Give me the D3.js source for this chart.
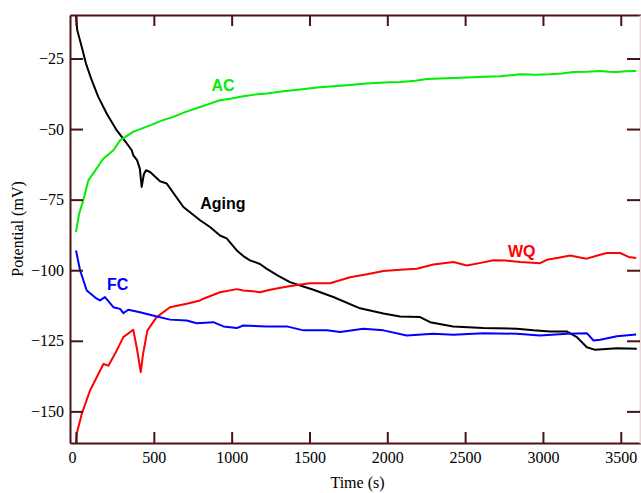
<!DOCTYPE html>
<html>
<head>
<meta charset="utf-8">
<script src="https://cdn.jsdelivr.net/npm/d3@7"></script>
<style>
  body { margin: 0; background: #fff; }
  svg { display: block; }
</style>
</head>
<body>
<div id="chart"></div>
<script>
// [time (s), potential (mV)]
const aging = [[0,-10],[8,-15],[37,-20.9],[64,-26.8],[101,-32.7],[143,-38.6],[197,-44.5],[261,-50.4],[326,-55.1],[358,-57.5],[368,-59.3],
  [392,-61],[410,-64],[422,-70.5],[436,-66],[450,-64.6],[476,-65.2],[540,-68.5],[583,-69.3],[690,-77.6],[797,-82.3],[861,-84.7],[925,-87.7],
  [968,-88.7],[1033,-93],[1075,-95],[1118,-96.5],[1182,-97.8],[1226,-99.5],[1300,-102],[1375,-104.2],[1450,-105.6],[1525,-106.9],[1653,-109.5],
  [1825,-113.5],[1975,-115.3],[2082,-116.4],[2211,-116.6],[2275,-118.4],[2423,-119.9],[2616,-120.5],[2832,-120.7],[2939,-121.3],
  [3046,-121.7],[3153,-121.7],[3218,-123.7],[3282,-127.3],[3336,-128.2],[3475,-127.6],[3603,-127.8]];

const ac = [[0,-86.5],[20,-80],[47,-75.2],[79,-68.2],[120,-65],[154,-62.2],[175,-60.5],[240,-57.5],[283,-54],[366,-51],[476,-48.7],
  [550,-47],[625,-45.7],[700,-44],[797,-42.2],[860,-41],[925,-39.8],[1000,-39.2],[1075,-38.4],[1150,-37.8],[1226,-37.4],[1330,-36.6],
  [1440,-36],[1550,-35.3],[1654,-34.8],[1760,-34.4],[1868,-33.9],[1980,-33.5],[2082,-33.3],[2180,-32.9],[2254,-32.3],[2380,-32],
  [2511,-31.7],[2620,-31.5],[2725,-31.3],[2800,-30.9],[2853,-30.6],[2950,-30.8],[3046,-30.6],[3120,-30.3],[3196,-29.8],[3280,-29.7],
  [3368,-29.4],[3420,-29.7],[3475,-29.8],[3530,-29.5],[3599,-29.4]];

const wq = [[0,-161.5],[4,-158],[37,-150.9],[90,-142.6],[176,-133.2],[208,-133.8],[261,-128.5],[304,-123.7],[368,-121.1],[392,-128],
  [416,-136.1],[430,-130],[458,-121.4],[518,-116.6],[604,-113.1],[711,-111.9],[797,-110.7],[818,-110.1],[925,-107.8],[1033,-106.7],
  [1075,-107.2],[1161,-107.6],[1182,-107.8],[1247,-106.9],[1332,-106],[1420,-105.2],[1504,-104.6],[1632,-104.6],[1761,-102.5],
  [1870,-101.4],[1975,-100.3],[2082,-99.8],[2189,-99.5],[2296,-98],[2425,-97.1],[2511,-98.3],[2600,-97.4],[2682,-96.5],[2760,-96.6],
  [2853,-97.1],[2982,-97.5],[3025,-96.3],[3100,-95.6],[3175,-94.8],[3230,-95.4],[3282,-95.9],[3350,-94.8],[3411,-93.9],[3496,-93.9],
  [3550,-95.3],[3599,-95.7]];

const fc = [[0,-93],[26,-100],[69,-107.2],[133,-110.1],[154,-110.7],[186,-109.5],[240,-113.1],[283,-113.7],[304,-115.2],[336,-114],
  [411,-114.9],[519,-116.4],[604,-117.5],[711,-117.8],[776,-118.8],[882,-118.4],[947,-119.9],[1033,-120.5],[1075,-119.6],[1226,-119.9],
  [1354,-119.9],[1461,-121.3],[1611,-121.3],[1697,-121.9],[1846,-120.7],[1975,-121.3],[2125,-123.1],[2296,-122.5],[2425,-122.9],
  [2618,-122.3],[2832,-122.5],[2982,-123.1],[3153,-122.5],[3282,-122.3],[3325,-124.9],[3368,-124.6],[3475,-123.4],[3599,-122.8]];

const series = [
  { name: "Aging", data: aging, color: "#000000", lx: 944, ly: -76.3 },
  { name: "AC", data: ac, color: "#00ee00", lx: 944, ly: -34.4 },
  { name: "WQ", data: wq, color: "#ff0000", lx: 2864, ly: -93.4 },
  { name: "FC", data: fc, color: "#0000ff", lx: 268, ly: -105 }
];

const xTicks = [0, 500, 1000, 1500, 2000, 2500, 3000, 3500];
const yTicks = [-25, -50, -75, -100, -125, -150];

const W = 641, H = 493;
const m = { left: 70, right: 641, top: 15, bottom: 443 };
const axisColor = "#4a1212";

const svg = d3.select("#chart").append("svg")
  .attr("width", W)
  .attr("height", H);

const x = d3.scaleLinear().domain([-38.6, 3630]).range([m.left, m.right]);
const y = d3.scaleLinear().domain([-161.2, -9.6]).range([m.bottom, m.top]);

svg.append("clipPath").attr("id", "clip")
  .append("rect")
  .attr("x", m.left).attr("y", m.top)
  .attr("width", m.right - m.left).attr("height", m.bottom - m.top);

const line = d3.line()
  .x(d => x(d[0]))
  .y(d => y(d[1]));

const plot = svg.append("g").attr("clip-path", "url(#clip)");
series.forEach(s => {
  plot.append("path")
    .datum(s.data)
    .attr("d", line)
    .attr("fill", "none")
    .attr("stroke", s.color)
    .attr("stroke-width", 2)
    .attr("stroke-linejoin", "round");
});

// curve labels
svg.append("g")
  .selectAll("text")
  .data(series)
  .join("text")
  .attr("x", d => x(d.lx))
  .attr("y", d => y(d.ly))
  .attr("dy", "0.36em")
  .attr("text-anchor", "middle")
  .attr("font-family", "Liberation Sans, Arial, sans-serif")
  .attr("font-weight", "bold")
  .attr("font-size", 16)
  .attr("fill", d => d.color)
  .text(d => d.name);

// axes, ticks pointing inward on all four sides
const fmt = d3.format("d");
const gx = svg.append("g")
  .attr("transform", `translate(0,${m.bottom})`)
  .call(d3.axisBottom(x).tickValues(xTicks).tickFormat(fmt).tickSizeInner(-11).tickSizeOuter(0).tickPadding(9));
const gxTop = svg.append("g")
  .attr("transform", `translate(0,${m.top})`)
  .call(d3.axisTop(x).tickValues(xTicks).tickFormat("").tickSizeInner(-11).tickSizeOuter(0));
const gy = svg.append("g")
  .attr("transform", `translate(${m.left},0)`)
  .call(d3.axisLeft(y).tickValues(yTicks).tickFormat(fmt).tickSizeInner(-13).tickSizeOuter(0).tickPadding(6));
const gyRight = svg.append("g")
  .attr("transform", `translate(${m.right - 1},0)`)
  .call(d3.axisRight(y).tickValues(yTicks).tickFormat("").tickSizeInner(-13).tickSizeOuter(0));

[gx, gxTop, gy, gyRight].forEach(g => {
  g.selectAll("line").attr("stroke", axisColor).attr("stroke-width", 2);
  g.select(".domain").attr("stroke", axisColor).attr("stroke-width", 2);
  g.selectAll("text")
    .attr("fill", "#000")
    .attr("font-family", "Liberation Serif, Times New Roman, serif")
    .attr("font-size", 16);
});
gyRight.select(".domain").attr("stroke", "#e8d8d8");
// the "0" label sits a little left of its tick in the original
gx.selectAll(".tick text").filter(d => d === 0).attr("dx", -4);

svg.append("text")
  .attr("x", (m.left + m.right) / 2 + 2)
  .attr("y", 488)
  .attr("text-anchor", "middle")
  .attr("font-family", "Liberation Serif, Times New Roman, serif")
  .attr("font-size", 16)
  .text("Time (s)");

svg.append("text")
  .attr("transform", `translate(23,${(m.top + m.bottom) / 2}) rotate(-90)`)
  .attr("text-anchor", "middle")
  .attr("font-family", "Liberation Serif, Times New Roman, serif")
  .attr("font-size", 16)
  .text("Potential (mV)");
</script>
</body>
</html>
